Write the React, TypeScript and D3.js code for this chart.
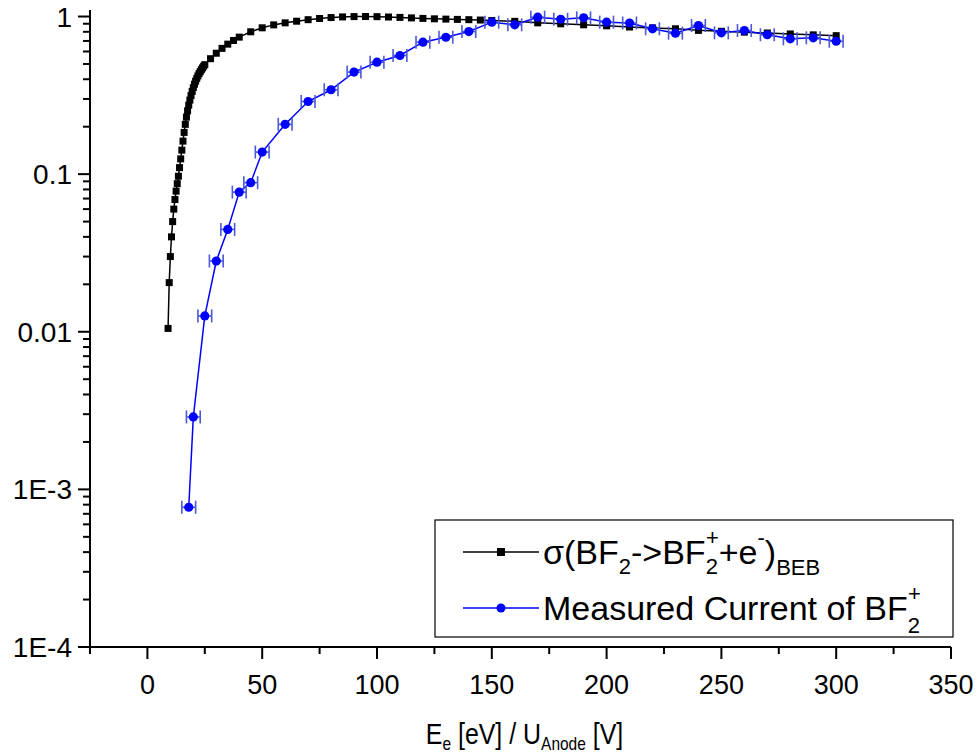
import React from "react";
import * as d3 from "d3";

const blackX = [9, 9.5, 10, 10.5, 11, 11.5, 12, 12.5, 13, 13.5, 14, 14.5, 15, 15.5, 16, 16.5, 17, 17.5, 18, 18.5, 19, 19.5, 20, 20.5, 21, 21.5, 22, 22.5, 23, 23.5, 24, 24.5, 25, 27.5, 30, 32.5, 35, 37.5, 40, 45, 50, 55, 60, 65, 70, 75, 80, 85, 90, 95, 100, 105, 110, 115, 120, 125, 130, 135, 140, 145, 150, 160, 170, 180, 190, 200, 210, 220, 230, 240, 250, 260, 270, 280, 290, 300];
const blackY = [0.0105, 0.0205, 0.030, 0.040, 0.050, 0.060, 0.069, 0.078, 0.087, 0.097, 0.110, 0.125, 0.142, 0.162, 0.184, 0.207, 0.230, 0.252, 0.274, 0.295, 0.315, 0.335, 0.354, 0.372, 0.389, 0.405, 0.420, 0.434, 0.447, 0.460, 0.472, 0.484, 0.495, 0.540, 0.585, 0.628, 0.668, 0.705, 0.740, 0.800, 0.848, 0.885, 0.912, 0.934, 0.955, 0.972, 0.985, 0.994, 0.999, 1.0, 0.998, 0.993, 0.987, 0.980, 0.973, 0.967, 0.963, 0.959, 0.955, 0.950, 0.943, 0.932, 0.912, 0.899, 0.886, 0.873, 0.858, 0.847, 0.836, 0.817, 0.806, 0.796, 0.786, 0.775, 0.765, 0.756];

const blueX = [18, 20, 25, 30, 35, 40, 45, 50, 60, 70, 80, 90, 100, 110, 120, 130, 140, 150, 160, 170, 180, 190, 200, 210, 220, 230, 240, 250, 260, 270, 280, 290, 300];
const blueY = [0.00077, 0.00288, 0.0126, 0.0281, 0.0446, 0.0769, 0.0883, 0.138, 0.207, 0.289, 0.343, 0.444, 0.513, 0.566, 0.687, 0.739, 0.803, 0.921, 0.886, 0.99, 0.961, 0.981, 0.921, 0.91, 0.836, 0.784, 0.877, 0.788, 0.815, 0.766, 0.722, 0.733, 0.697];
const blueXErr = [3, 3, 3, 3, 3, 3, 3, 3, 3, 3, 3, 3, 3, 3, 3, 3, 3, 3, 3, 3, 3, 3, 3, 3, 3, 3, 3, 3, 3, 3, 3, 3, 3];

const xTicks = [0, 50, 100, 150, 200, 250, 300, 350];
const xMinorTicks = [-25, 25, 75, 125, 175, 225, 275, 325];
const yTicks = [1, 0.1, 0.01, 0.001, 0.0001];
const yTickLabels = ["1", "0.1", "0.01", "1E-3", "1E-4"];
const xTitle = ["E", "e", " [eV] / U", "Anode", " [V]"];
const legend1 = "σ(BF";
const legend2 = "Measured Current of BF";

const FONT = "'Liberation Sans', Arial, sans-serif";

export default function App() {
  const x = d3.scaleLinear().domain([-25, 350]).range([90, 951]);
  const y = d3.scaleLog().domain([0.0001, 1.1]).range([647, 10]);
  const [x0, x1] = x.range();
  const [yb, yt] = y.range();

  const yMinor: number[] = [];
  [0.0001, 0.001, 0.01, 0.1].forEach((d) => {
    for (let k = 2; k <= 9; k++) yMinor.push(d * k);
  });

  const line = d3
    .line<[number, number]>()
    .x((d) => x(d[0]))
    .y((d) => y(d[1]));
  const blackData = blackX.map((v, i) => [v, blackY[i]] as [number, number]);
  const blueData = blueX.map((v, i) => [v, blueY[i]] as [number, number]);

  const blue = "#0000ff";
  const errColor = "#4a5ad8";

  const lx0 = 463, lx1 = 539, lxm = 501, ltx = 543;
  const r1 = 552, r2 = 608;

  return (
    <svg
      width={978}
      height={756}
      style={{ display: "block", position: "absolute", left: 0, top: 0 }}
      fontFamily={FONT}
    >
      <rect x={0} y={0} width={978} height={756} fill="#fff" />
      {/* black series */}
      <path d={line(blackData) || ""} fill="none" stroke="#000" strokeWidth={1.5} />
      {blackData.map((d, i) => (
        <rect key={"b" + i} x={x(d[0]) - 3.5} y={y(d[1]) - 3.5} width={7} height={7} fill="#000" />
      ))}
      {/* blue series */}
      <path d={line(blueData) || ""} fill="none" stroke={blue} strokeWidth={1.5} />
      {blueData.map((d, i) => {
        const cy = y(d[1]);
        const xl = x(d[0] - blueXErr[i]);
        const xr = x(d[0] + blueXErr[i]);
        return (
          <g key={"e" + i} stroke={errColor} strokeWidth={1.6}>
            <line x1={xl} x2={xr} y1={cy} y2={cy} />
            <line x1={xl} x2={xl} y1={cy - 6.5} y2={cy + 6.5} />
            <line x1={xr} x2={xr} y1={cy - 6.5} y2={cy + 6.5} />
          </g>
        );
      })}
      {blueData.map((d, i) => (
        <circle key={"c" + i} cx={x(d[0])} cy={y(d[1])} r={4.6} fill={blue} />
      ))}

      {/* axes */}
      <line x1={x0} x2={x1} y1={yb} y2={yb} stroke="#000" strokeWidth={2} />
      <line x1={x0} x2={x0} y1={yt} y2={yb} stroke="#000" strokeWidth={2} />
      {xTicks.map((t) => (
        <g key={"xt" + t}>
          <line x1={x(t)} x2={x(t)} y1={yb} y2={yb + 12} stroke="#000" strokeWidth={2} />
          <text x={x(t)} y={yb + 47} fontSize={27} textAnchor="middle" fill="#000">
            {t}
          </text>
        </g>
      ))}
      {xMinorTicks.map((t) => (
        <line key={"xm" + t} x1={x(t)} x2={x(t)} y1={yb} y2={yb + 7} stroke="#000" strokeWidth={2} />
      ))}
      {yTicks.map((t, i) => (
        <g key={"yt" + t}>
          <line x1={x0 - 12} x2={x0} y1={y(t)} y2={y(t)} stroke="#000" strokeWidth={2} />
          <text x={x0 - 18} y={y(t) + 10} fontSize={28} textAnchor="end" fill="#000">
            {yTickLabels[i]}
          </text>
        </g>
      ))}
      {yMinor.map((t) => (
        <line key={"ym" + t} x1={x0 - 7} x2={x0} y1={y(t)} y2={y(t)} stroke="#000" strokeWidth={2} />
      ))}

      {/* x title */}
      <g transform={`translate(${(x0 + x1) / 2 + 4},0) scale(0.86,1)`}>
        <text x={0} y={744} fontSize={29} textAnchor="middle" fill="#000">
          <tspan>{xTitle[0]}</tspan>
          <tspan fontSize={18} dy={6}>{xTitle[1]}</tspan>
          <tspan dy={-6}>{xTitle[2]}</tspan>
          <tspan fontSize={18} dy={6}>{xTitle[3]}</tspan>
          <tspan dy={-6}>{xTitle[4]}</tspan>
        </text>
      </g>

      {/* legend */}
      <rect x={435} y={520} width={518} height={117} fill="#fff" stroke="#000" strokeWidth={1.2} />
      <line x1={lx0} x2={lx1} y1={r1} y2={r1} stroke="#000" strokeWidth={1.5} />
      <rect x={lxm - 4} y={r1 - 4} width={8} height={8} fill="#000" />
      <line x1={lx0} x2={lx1} y1={r2} y2={r2} stroke={blue} strokeWidth={1.5} />
      <circle cx={lxm} cy={r2} r={4.5} fill={blue} />
      <text x={ltx} y={r1 + 12} fontSize={34} fill="#000">
        <tspan>{legend1}</tspan>
        <tspan fontSize={22} y={r1 + 22}>2</tspan>
        <tspan y={r1 + 12}>{"->BF"}</tspan>
        <tspan fontSize={22} y={r1 + 22}>2</tspan>
        <tspan fontSize={22} dx={-12} y={r1 - 7}>+</tspan>
        <tspan y={r1 + 12}>+e</tspan>
        <tspan fontSize={22} y={r1 - 7}>-</tspan>
        <tspan y={r1 + 12}>)</tspan>
        <tspan fontSize={22} y={r1 + 23}>BEB</tspan>
      </text>
      <text x={ltx} y={r2 + 12} fontSize={34} fill="#000">
        <tspan>{legend2}</tspan>
        <tspan fontSize={22} y={r2 + 25}>2</tspan>
        <tspan fontSize={22} dx={-12} y={r2 - 7}>+</tspan>
      </text>
    </svg>
  );
}
